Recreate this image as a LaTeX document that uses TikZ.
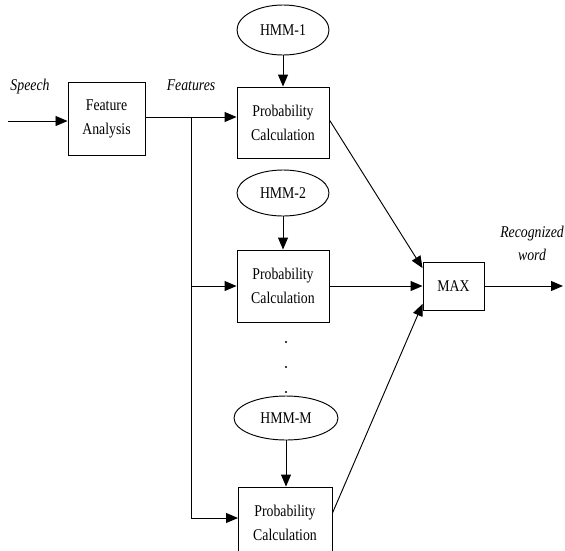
\documentclass[tikz,border=0pt]{standalone}
\usepackage{fontspec}
\setmainfont{Liberation Serif}[FakeStretch=0.84]
\usetikzlibrary{arrows.meta,shapes.geometric}

\tikzset{
  blockbox/.style={draw, line width=0.8pt, align=center, font=\fontsize{14}{20.5}\selectfont},
  hmmnode/.style={draw, ellipse, line width=0.8pt, inner sep=0pt, font=\fontsize{14}{20.5}\selectfont},
  sig/.style={font=\fontsize{14}{19.5}\selectfont\itshape, align=center},
  conn/.style={line width=0.8pt, -{Triangle[length=3.6mm,width=3mm]}},
  wire/.style={line width=0.8pt}
}

\begin{document}
\begin{tikzpicture}[x=0.03cm, y=-0.03cm]
  \useasboundingbox (0,0) rectangle (565,550);
  \clip (0,0) rectangle (565,550);

  % blocks
  \node[blockbox, minimum width=2.31cm, minimum height=2.19cm] (fa) at (106.5,118.5) {Feature\\Analysis};
  \node[blockbox, minimum width=2.76cm, minimum height=2.13cm] (p1) at (283,122.5) {Probability\\Calculation};
  \node[blockbox, minimum width=2.76cm, minimum height=2.16cm] (p2) at (283,286) {Probability\\Calculation};
  \node[blockbox, minimum width=2.82cm, minimum height=2.16cm] (p3) at (285,523) {Probability\\Calculation};
  \node[blockbox, minimum width=1.83cm, minimum height=1.44cm] (max) at (453.5,286) {MAX};

  % models
  \node[hmmnode, minimum width=2.76cm, minimum height=1.5cm] (h1) at (283,30) {HMM-1};
  \node[hmmnode, minimum width=2.76cm, minimum height=1.38cm] (h2) at (283,193) {HMM-2};
  \node[hmmnode, minimum width=3.12cm, minimum height=1.32cm] (hm) at (286,418) {HMM-M};

  % labels
  \node[sig] (speech) at (30,87) {Speech};
  \node[sig] (feat) at (191,85) {Features};
  \node[sig] (word) at (532,243) {Recognized\\word};

  % dots
  \fill (286,342) circle (1.2);
  \fill (286,367) circle (1.2);
  \fill (286,392) circle (1.2);

  % connectors
  \coordinate (in) at (8,121);
  \coordinate (split) at (191,117);
  \coordinate (out) at (563,286);
  \draw[conn] (in) -- (in -| fa.west);
  \draw[conn] (fa.east |- split) -- (split -| p1.west);
  \draw[wire] (split) -- (191,518);
  \draw[conn] (split |- p2.west) -- (p2.west);
  \draw[conn] (191,518) -- (238,518);
  \draw[conn] (h1) -- (p1);
  \draw[conn] (h2) -- (p2);
  \draw[conn] (hm) -- (hm |- p3.north);
  \draw[conn] (p1.east |- 0,120) -- (max.150);
  \draw[conn] (p2.east) -- (max.west);
  \draw[conn] (p3.east |- 0,513) -- (max.210);
  \draw[conn] (max.east) -- (out);
\end{tikzpicture}
\end{document}
